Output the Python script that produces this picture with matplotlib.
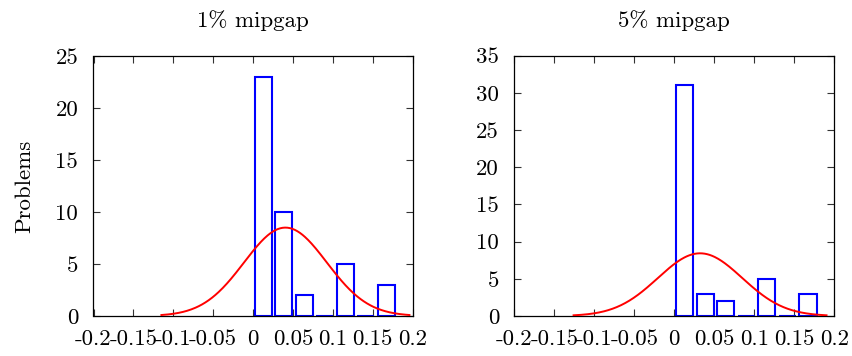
import numpy as np
import matplotlib
matplotlib.use("Agg")
import matplotlib.pyplot as plt
from matplotlib.ticker import FixedLocator, FixedFormatter

# ---- data ----
bin_centers = [0.0129, 0.0386, 0.0643, 0.0900, 0.1157, 0.1414, 0.1671]
counts_1pct = [23, 10, 2, 0, 5, 0, 3]
counts_5pct = [31, 3, 2, 0, 5, 0, 3]

# fitted normal curves: (mean, std, peak height)
fit_1pct = (0.0405, 0.0518, 8.5)
fit_5pct = (0.0322, 0.0527, 8.43)

titles = ["1% mipgap", "5% mipgap"]
xticks = [-0.2, -0.15, -0.1, -0.05, 0, 0.05, 0.1, 0.15, 0.2]
xtick_labels = ["-0.2", "-0.15", "-0.1", "-0.05", "0", "0.05", "0.1", "0.15", "0.2"]
yticks_1pct = [0, 5, 10, 15, 20, 25]
yticks_5pct = [0, 5, 10, 15, 20, 25, 30, 35]
ylabel = "Problems"

FS = 16.5
plt.rcParams['font.family'] = ['cmr10', 'DejaVu Serif']
plt.rcParams['font.size'] = FS
plt.rcParams['axes.unicode_minus'] = False

fig = plt.figure(figsize=(8.53, 3.56), dpi=100)
ax1 = fig.add_axes([93.5 / 853, 40 / 356, 319.2 / 853, 260 / 356])
ax2 = fig.add_axes([514.3 / 853, 40 / 356, 320 / 853, 260.3 / 356])

bin_w = bin_centers[1] - bin_centers[0]

def draw(ax, counts, fit, yticks, title):
    ax.bar(bin_centers, counts, width=bin_w * 0.83, facecolor='none',
           edgecolor='#0000ff', linewidth=1.5, zorder=2)
    mu, sd, pk = fit
    xs = np.linspace(mu - 3 * sd, mu + 3 * sd, 300)
    ax.plot(xs, pk * np.exp(-0.5 * ((xs - mu) / sd) ** 2), color='#ff0000',
            linewidth=1.4, zorder=3)
    ax.set_xlim(-0.2, 0.2)
    ax.set_ylim(yticks[0], yticks[-1])
    ax.xaxis.set_major_locator(FixedLocator(xticks))
    ax.xaxis.set_major_formatter(FixedFormatter(xtick_labels))
    ax.set_yticks(yticks)
    ax.set_yticklabels([str(v) for v in yticks])
    ax.tick_params(direction='in', length=5, width=0.8, color='#333333',
                   top=True, right=True, labelsize=FS)
    ax.tick_params(axis='x', pad=10)
    ax.tick_params(axis='y', pad=11)
    for s in ax.spines.values():
        s.set_linewidth(0.9)
        s.set_color('black')
    ax.set_title(title, fontsize=FS, pad=21)

draw(ax1, counts_1pct, fit_1pct, yticks_1pct, titles[0])
draw(ax2, counts_5pct, fit_5pct, yticks_5pct, titles[1])
ax1.set_ylabel(ylabel, fontsize=FS, labelpad=15)

fig.savefig("out.png", dpi=100)
